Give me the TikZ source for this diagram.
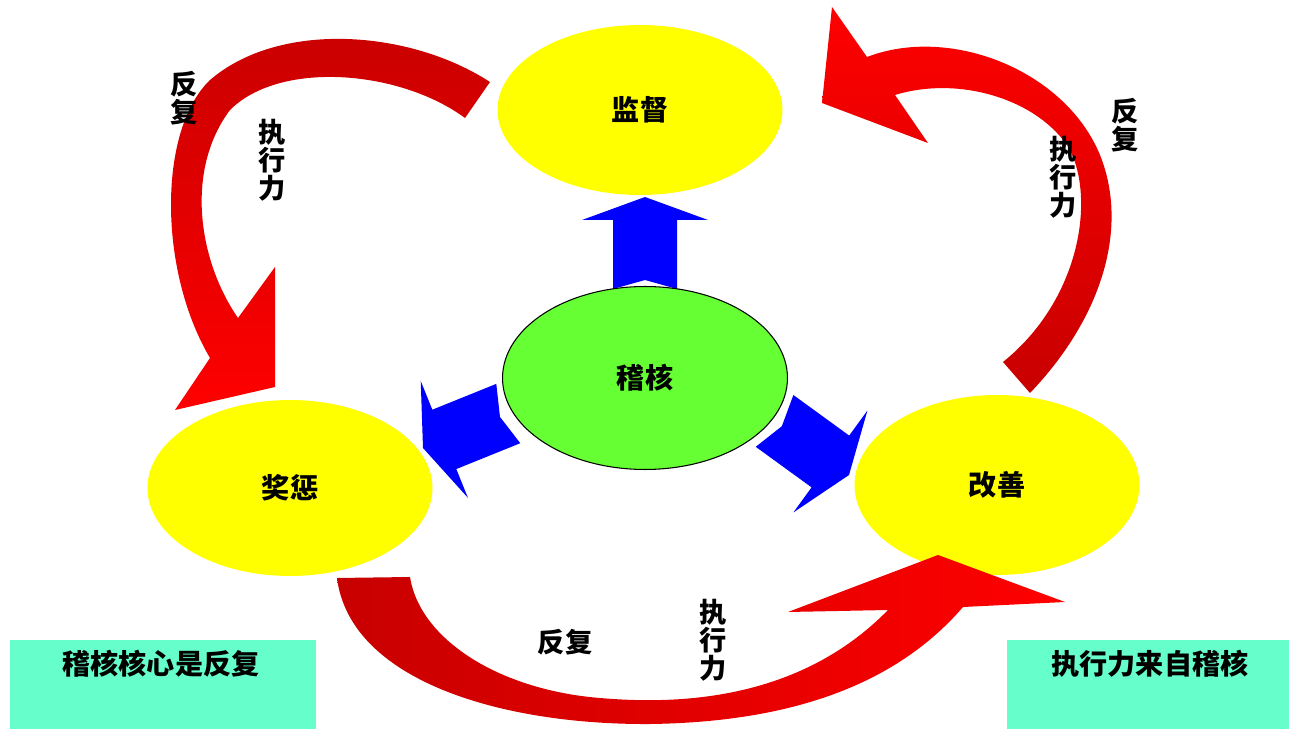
\documentclass[tikz,border=0pt]{standalone}
\usepackage{fontspec}
\newfontfamily\cjk{Noto Sans CJK SC}
\usetikzlibrary{shapes.geometric}

\definecolor{ovalyellow}{RGB}{255,255,0}
\definecolor{coregreen}{RGB}{102,255,51}
\definecolor{notecyan}{RGB}{102,255,204}
\definecolor{arrowred}{RGB}{255,0,0}
\definecolor{arrowdark}{RGB}{200,0,0}
\definecolor{pushblue}{RGB}{0,0,255}

\tikzset{
  oval/.style={ellipse, fill=ovalyellow, inner sep=0pt, minimum width=5.7cm, font=\cjk\bfseries\fontsize{16}{18}\selectfont},
  core/.style={oval, fill=coregreen, draw=black, line width=0.6pt},
  notetext/.style={inner sep=0pt, font=\cjk\bfseries\fontsize{16}{18}\selectfont},
  steplabel/.style={inner sep=0pt, align=center, font=\cjk\bfseries\fontsize{15.5}{15.9}\selectfont},
  push/.style={fill=pushblue}
}

% blue block arrow: tip position, direction
\newcommand{\pusharrow}[2]{\fill[push, shift={#1}, rotate=#2] (0,0) -- (-23,63) -- (-23,32) -- (-92,32) -- (-83,0) -- (-92,-32) -- (-23,-32) -- (-23,-63) -- cycle;}

\begin{document}
\begin{tikzpicture}[x=0.02cm, y=-0.02cm]
  \useasboundingbox (0,0) rectangle (1289,729);

  %blue arrows out of the centre
  \pusharrow{(645,197)}{90}
  \pusharrow{(423,448)}{202}
  \pusharrow{(849,475)}{-36}

  %the four ovals
  \node[oval, minimum height=3.4cm] (jiandu) at (640,110) {监督};
  \node[oval, minimum height=3.52cm] (jiangcheng) at (290,488) {奖惩};
  \node[oval, minimum height=3.6cm] (gaishan) at (997,485) {改善};
  \node[core, minimum height=3.66cm] (jihe) at (645,378) {稽核};

  %red curved arrows
  \shade[top color=arrowdark, bottom color=arrowred]
    (490,82) .. controls (410,30) and (280,20) .. (210,80)
    .. controls (158,130) and (158,270) .. (210,358)
    -- (175,410) -- (275,387) -- (275,267) -- (238,318)
    .. controls (198,260) and (185,170) .. (230,110)
    .. controls (280,60) and (400,70) .. (465,118) -- cycle;
  \shade[top color=arrowred, bottom color=arrowdark]
    (1030,393) .. controls (1100,320) and (1130,230) .. (1100,155)
    .. controls (1065,70) and (950,25) .. (867,57)
    -- (832,7) -- (822,103) -- (928,143) -- (895,95)
    .. controls (960,75) and (1040,100) .. (1070,150)
    .. controls (1095,200) and (1080,300) .. (1003,362) -- cycle;
  \shade[left color=arrowdark, right color=arrowred]
    (337,578) .. controls (350,680) and (500,725) .. (650,724)
    .. controls (800,722) and (900,680) .. (963,607)
    -- (1065,602) -- (938,555) -- (788,612) -- (888,610)
    .. controls (800,700) and (680,705) .. (600,698)
    .. controls (500,690) and (420,640) .. (410,577) -- cycle;

  %labels along the arrows
  \node[steplabel] (fuA) at (184,98) {反\\复};
  \node[steplabel] (zhiA) at (272,160) {执\\行\\力};
  \node[steplabel] (fuB) at (1125,125) {反\\复};
  \node[steplabel] (zhiB) at (1063,177) {执\\行\\力};
  \node[steplabel] (fuC) at (565,642) {反复};
  \node[steplabel] (zhiC) at (713,640) {执\\行\\力};

  %notes at the bottom
  \fill[notecyan] (10,640) rectangle (316,729);
  \fill[notecyan] (1007,640) rectangle (1289,729);
  \node[notetext] (leftnote) at (161,664) {稽核核心是反复};
  \node[notetext] (rightnote) at (1150,664) {执行力来自稽核};
\end{tikzpicture}
\end{document}
